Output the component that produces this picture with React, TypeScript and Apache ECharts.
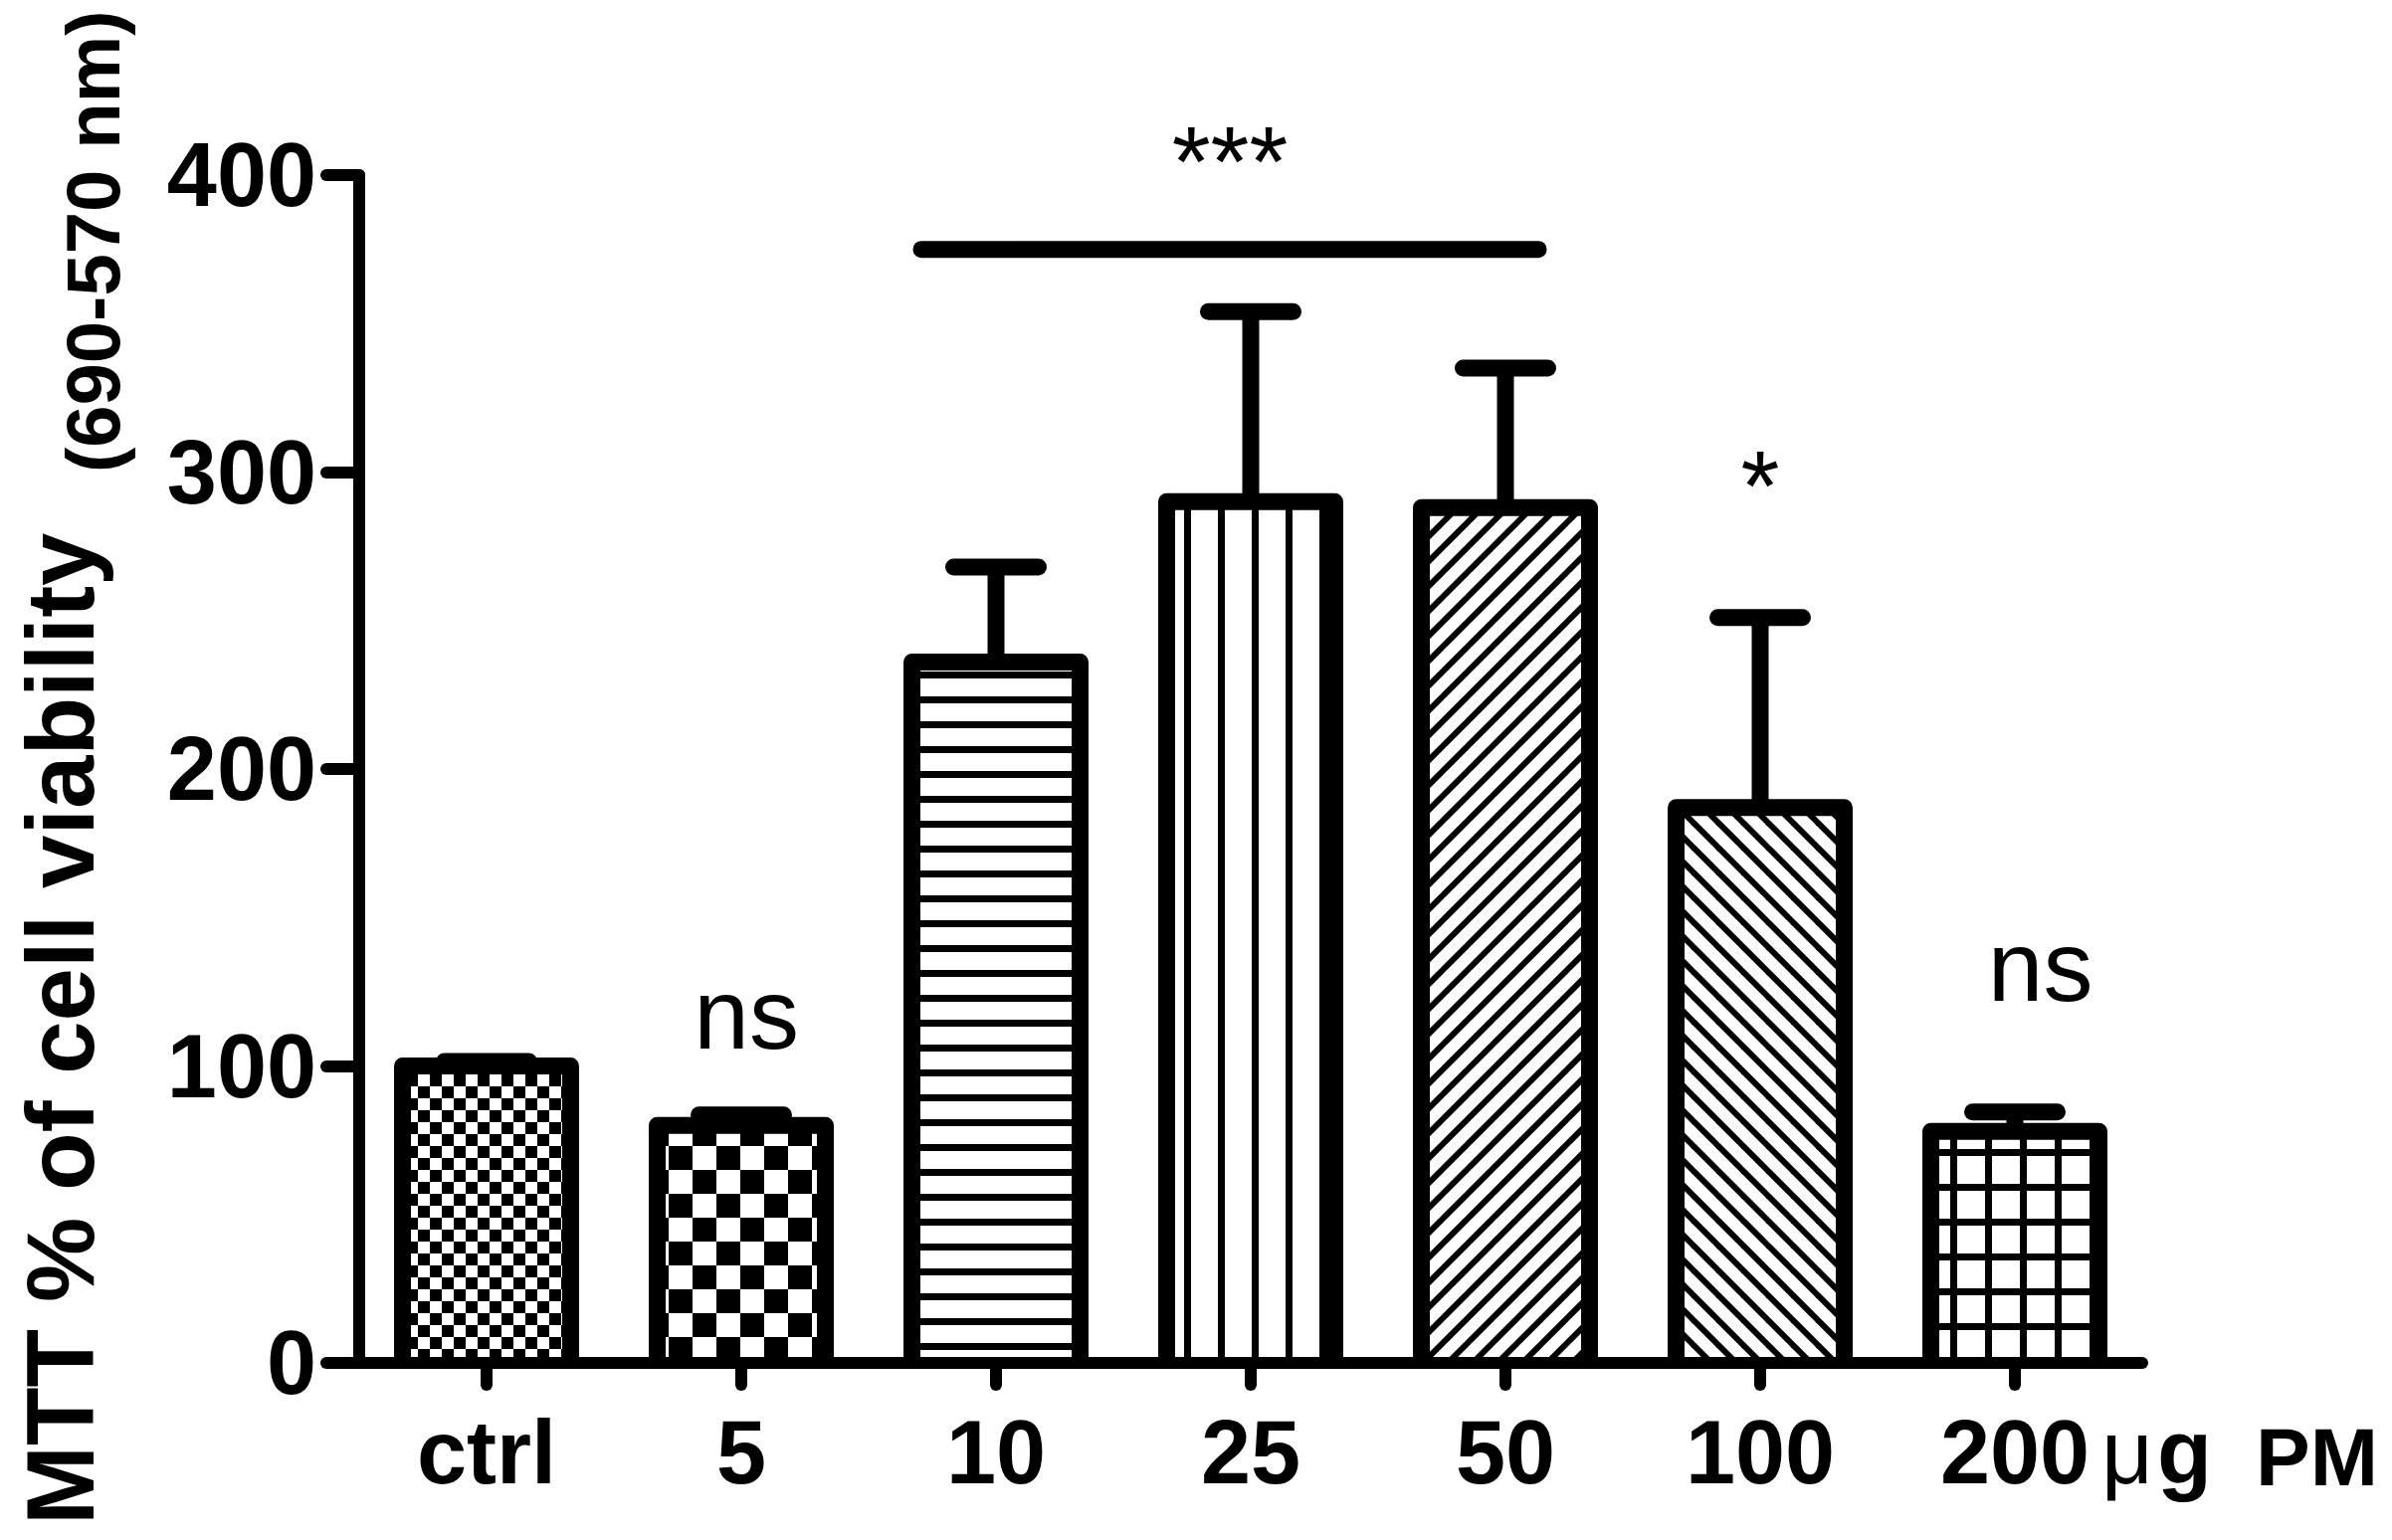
import React, { useEffect, useRef } from 'react';
import * as echarts from 'echarts';

// ---- data ----
const categories = ['ctrl', '5', '10', '25', '50', '100', '200'];
const meanValues = [100, 80, 236, 290, 288, 187, 78];
const semValues = [1.5, 3.5, 32, 64, 47, 64, 6.5];
const yTicks = [0, 100, 200, 300, 400];
const patternKinds = ['fineChecker', 'coarseChecker', 'hLines', 'vLines', 'diagUp', 'diagDown', 'grid'];

const annotationTexts = ['ns', 'ns', '*'];
const annotationCats = [1, 6, 5];
const annotationValues = [106, 122, 284];
const annotationShift = [0.02, 0.1, 0];

const bracketStartCat = 2;
const bracketEndCat = 4;
const bracketValue = 375;
const bracketLabel = '***';
const bracketLabelValue = 393;

const yTitle = 'MTT % of cell viability';
const yUnit = '(690-570 nm)';
const xUnitMu = 'μ';
const xUnitG = 'g';
const xUnitPM = 'PM';

const FONT = '"Liberation Sans", Arial, Helvetica, sans-serif';
const BAR_FRACTION = 0.66;

function makeTile(w: number, h: number, draw: (ctx: CanvasRenderingContext2D) => void) {
  const c = document.createElement('canvas');
  c.width = w;
  c.height = h;
  const ctx = c.getContext('2d') as CanvasRenderingContext2D;
  ctx.fillStyle = '#fff';
  ctx.fillRect(0, 0, w, h);
  ctx.fillStyle = '#000';
  ctx.strokeStyle = '#000';
  draw(ctx);
  return { image: c.toDataURL(), repeat: 'repeat', imageWidth: w, imageHeight: h };
}

function makePattern(kind: string) {
  switch (kind) {
    case 'fineChecker':
      return makeTile(24, 24, (ctx) => {
        ctx.fillRect(0, 0, 12, 12);
        ctx.fillRect(12, 12, 12, 12);
      });
    case 'coarseChecker':
      return makeTile(48, 48, (ctx) => {
        ctx.fillRect(0, 0, 24, 24);
        ctx.fillRect(24, 24, 24, 24);
      });
    case 'hLines':
      return makeTile(8, 25, (ctx) => {
        ctx.fillRect(0, 0, 8, 7);
      });
    case 'vLines':
      return makeTile(34, 8, (ctx) => {
        ctx.fillRect(0, 0, 7, 8);
      });
    case 'diagUp':
      return makeTile(25, 25, (ctx) => {
        ctx.lineWidth = 6;
        for (let o = -25; o <= 25; o += 25) {
          ctx.beginPath();
          ctx.moveTo(o - 2, 27);
          ctx.lineTo(o + 27, -2);
          ctx.stroke();
        }
      });
    case 'diagDown':
      return makeTile(25, 25, (ctx) => {
        ctx.lineWidth = 6;
        for (let o = -25; o <= 25; o += 25) {
          ctx.beginPath();
          ctx.moveTo(o - 2, -2);
          ctx.lineTo(o + 27, 27);
          ctx.stroke();
        }
      });
    case 'grid':
    default:
      return makeTile(35, 35, (ctx) => {
        ctx.fillRect(0, 0, 35, 7);
        ctx.fillRect(0, 0, 7, 35);
      });
  }
}

function textStyle(text: string, font: string, align: string, vAlign: string) {
  return {
    text,
    font,
    fill: '#000',
    align,
    textAlign: align,
    verticalAlign: vAlign,
    textVerticalAlign: vAlign,
  };
}

export default function App() {
  const ref = useRef<HTMLDivElement>(null);

  useEffect(() => {
    if (!ref.current) return;
    const chart = echarts.init(ref.current, null, { renderer: 'svg' });
    const patterns = patternKinds.map(makePattern);
    const axisLineStyle = { color: '#000', width: 12, cap: 'round' };

    const option: any = {
      animation: false,
      backgroundColor: '#fff',
      grid: { left: 361, top: 176, width: 1792, height: 1194 },
      xAxis: {
        type: 'category',
        data: categories,
        z: 5,
        axisLine: { show: true, lineStyle: axisLineStyle },
        axisTick: { show: true, alignWithLabel: true, length: 22, lineStyle: axisLineStyle },
        axisLabel: {
          color: '#000',
          fontSize: 90,
          fontWeight: 'bold',
          fontFamily: FONT,
          margin: 45,
          interval: 0,
        },
        splitLine: { show: false },
      },
      yAxis: {
        type: 'value',
        min: yTicks[0],
        max: yTicks[yTicks.length - 1],
        interval: yTicks[1] - yTicks[0],
        z: 5,
        axisLine: { show: true, lineStyle: axisLineStyle },
        axisTick: { show: true, length: 33, lineStyle: axisLineStyle },
        axisLabel: {
          color: '#000',
          fontSize: 90,
          fontWeight: 'bold',
          fontFamily: FONT,
          margin: 43,
        },
        splitLine: { show: false },
      },
      series: [
        {
          // pattern fills of the bars
          type: 'bar',
          silent: true,
          barWidth: `${BAR_FRACTION * 100}%`,
          z: 2,
          emphasis: { disabled: true },
          itemStyle: { borderWidth: 0 },
          data: meanValues.map((v, i) => ({ value: v, itemStyle: { color: patterns[i] } })),
        },
        {
          // bar outlines (left, top, right) centred on the bar edges
          type: 'custom',
          silent: true,
          z: 3,
          data: meanValues.map((m, i) => [i, m]),
          renderItem: (params: any, api: any) => {
            const i = api.value(0);
            const top = api.coord([i, api.value(1)]);
            const base = api.coord([i, 0]);
            const half = (api.size([1, 0])[0] * BAR_FRACTION) / 2;
            return {
              type: 'polyline',
              shape: {
                points: [
                  [top[0] - half, base[1]],
                  [top[0] - half, top[1]],
                  [top[0] + half, top[1]],
                  [top[0] + half, base[1]],
                ],
              },
              style: { stroke: '#000', fill: null, lineWidth: 17, lineJoin: 'round', lineCap: 'butt' },
            };
          },
        },
        {
          // error bars (mean + SEM)
          type: 'custom',
          silent: true,
          z: 3,
          data: meanValues.map((m, i) => [i, m, semValues[i]]),
          renderItem: (params: any, api: any) => {
            const i = api.value(0);
            const m = api.value(1);
            const s = api.value(2);
            const base = api.coord([i, m]);
            const top = api.coord([i, m + s]);
            const band = api.size([1, 0])[0];
            const half = band * 0.166;
            return {
              type: 'group',
              children: [
                {
                  type: 'line',
                  shape: { x1: base[0], y1: base[1], x2: top[0], y2: top[1] },
                  style: { stroke: '#000', lineWidth: 17, lineCap: 'butt' },
                },
                {
                  type: 'line',
                  shape: { x1: top[0] - half, y1: top[1], x2: top[0] + half, y2: top[1] },
                  style: { stroke: '#000', lineWidth: 17, lineCap: 'round' },
                },
              ],
            };
          },
        },
        {
          type: 'custom',
          silent: true,
          z: 4,
          data: annotationCats.map((c, k) => [c, annotationValues[k]]),
          renderItem: (params: any, api: any) => {
            const k = params.dataIndex;
            const p = api.coord([api.value(0), api.value(1)]);
            const band = api.size([1, 0])[0];
            const fs = 100;
            return {
              type: 'text',
              x: p[0] + annotationShift[k] * band,
              y: p[1] - 0.3465 * fs,
              style: textStyle(annotationTexts[k], `normal ${fs}px ${FONT}`, 'center', 'middle'),
            };
          },
        },
        {
          type: 'custom',
          silent: true,
          z: 4,
          data: [[bracketStartCat, bracketValue, bracketEndCat, bracketLabelValue]],
          renderItem: (params: any, api: any) => {
            const a = api.coord([api.value(0), api.value(1)]);
            const b = api.coord([api.value(2), api.value(1)]);
            const lab = api.coord([api.value(0), api.value(3)]);
            const band = api.size([1, 0])[0];
            const x1 = a[0] - 0.293 * band;
            const x2 = b[0] + 0.129 * band;
            const fs = 100;
            return {
              type: 'group',
              children: [
                {
                  type: 'line',
                  shape: { x1, y1: a[1], x2, y2: a[1] },
                  style: { stroke: '#000', lineWidth: 17, lineCap: 'round' },
                },
                {
                  type: 'text',
                  x: (x1 + x2) / 2,
                  y: lab[1] - 0.3465 * fs,
                  style: textStyle(bracketLabel, `normal ${fs}px ${FONT}`, 'center', 'middle'),
                },
              ],
            };
          },
        },
      ],
      graphic: [
        {
          type: 'text',
          x: 60,
          y: 1533,
          rotation: Math.PI / 2,
          style: textStyle(yTitle, `bold 96px ${FONT}`, 'left', 'middle'),
        },
        {
          type: 'text',
          x: 93,
          y: 475,
          rotation: Math.PI / 2,
          style: textStyle(yUnit, `bold 76px ${FONT}`, 'left', 'middle'),
        },
        {
          type: 'text',
          x: 2112,
          y: 1460,
          style: textStyle(xUnitMu, `normal 90px ${FONT}`, 'left', 'middle'),
        },
        {
          type: 'text',
          x: 2168,
          y: 1460,
          style: textStyle(xUnitG, `bold 90px ${FONT}`, 'left', 'middle'),
        },
        {
          type: 'text',
          x: 2267,
          y: 1464,
          style: textStyle(xUnitPM, `bold 82px ${FONT}`, 'left', 'middle'),
        },
      ],
    };

    chart.setOption(option);
    return () => chart.dispose();
  }, []);

  return (
    <div
      ref={ref}
      style={{ position: 'fixed', left: 0, top: 0, width: 2404, height: 1548, background: '#fff' }}
    />
  );
}
